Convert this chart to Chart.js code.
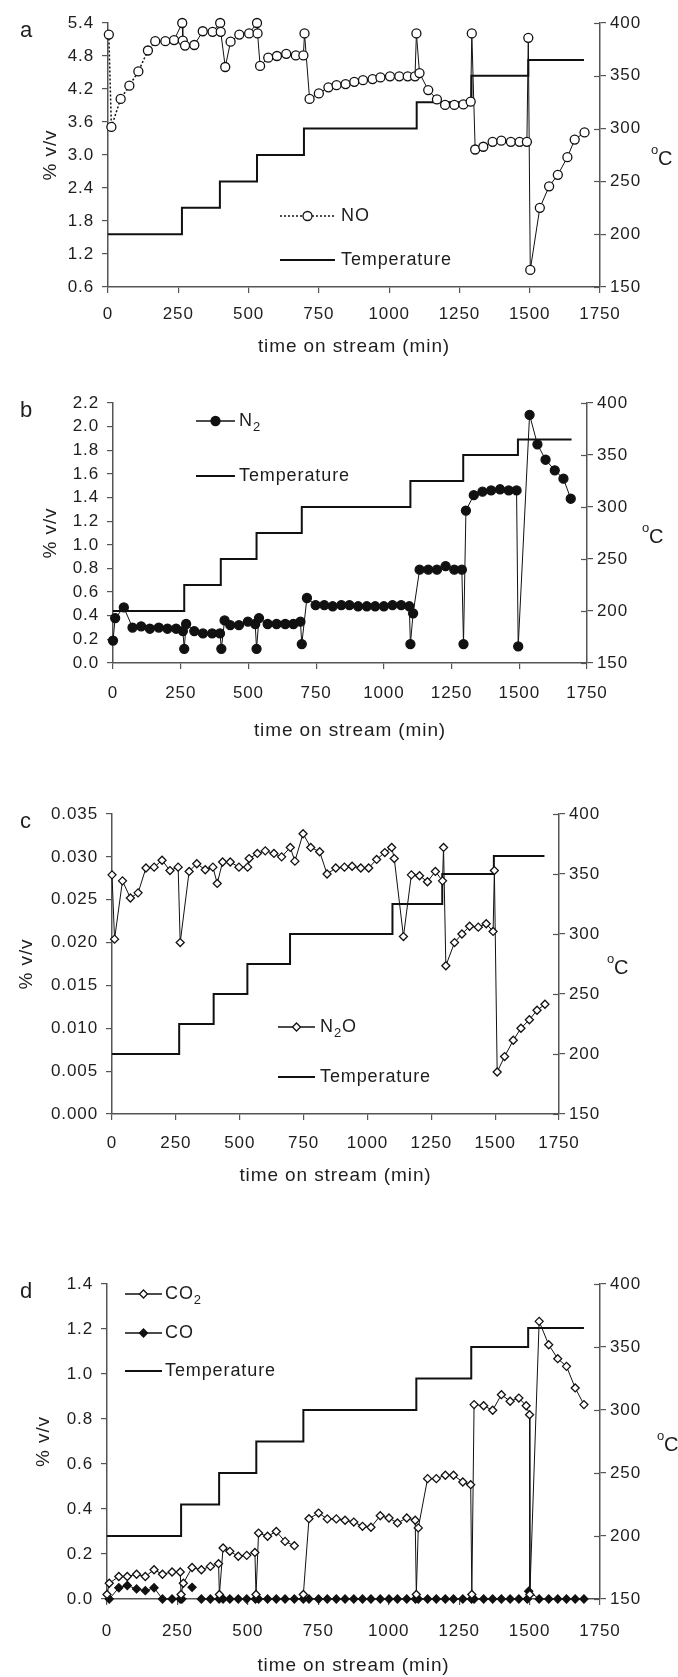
<!DOCTYPE html>
<html>
<head>
<meta charset="utf-8">
<script src="https://cdn.jsdelivr.net/npm/chart.js@4.4.1/dist/chart.umd.min.js"></script>
<style>
  html, body { margin: 0; padding: 0; background: #fff; }
  #wrap { position: relative; width: 678px; height: 1677px; }
  canvas { position: absolute; left: 0; }
</style>
</head>
<body>
<div id="wrap">
  <canvas id="chart-a" width="678" height="360" style="top:0px"></canvas>
  <canvas id="chart-b" width="678" height="400" style="top:360px"></canvas>
  <canvas id="chart-c" width="678" height="440" style="top:760px"></canvas>
  <canvas id="chart-d" width="678" height="477" style="top:1200px"></canvas>
</div>
<script>
const FONT = '"Liberation Sans", Arial, sans-serif';
const INK = '#1e1e1e';
const AXIS = '#555';
// the original lettering is a bit wider than Arial, spread it slightly
const SPACING = '0.9px';

// temperature programme (same in every panel)
const tempTimes = [0, 263, 398, 530, 697, 1098, 1293, 1495, 1693];
const tempLevels = [200, 225, 250, 275, 300, 325, 350, 365, 365];

// a: NO
const noTime = [3, 12, 45, 76, 108, 142, 168, 204, 235, 264, 266, 274, 307, 337, 372, 399, 401, 417, 436, 467,
  502, 530, 532, 541, 570, 601, 634, 668, 695, 699, 717, 750, 784, 813, 845, 876, 907, 941, 969, 1003,
  1036, 1066, 1092, 1097, 1108, 1139, 1170, 1199, 1232, 1264, 1290, 1294, 1306, 1335, 1368, 1399, 1433, 1464, 1490, 1495,
  1502, 1536, 1569, 1600, 1634, 1660, 1695];
const noValue = [5.19, 3.51, 4.02, 4.26, 4.52, 4.90, 5.07, 5.07, 5.09, 5.40, 5.08, 4.99, 5.00, 5.25, 5.24, 5.40, 5.24, 4.60, 5.06, 5.19,
  5.21, 5.40, 5.21, 4.62, 4.77, 4.80, 4.84, 4.81, 4.81, 5.21, 4.02, 4.12, 4.23, 4.27, 4.29, 4.33, 4.36, 4.38, 4.41, 4.43,
  4.43, 4.43, 4.43, 5.21, 4.49, 4.18, 4.01, 3.91, 3.91, 3.92, 3.97, 5.21, 3.10, 3.15, 3.24, 3.26, 3.24, 3.24, 3.24, 5.13,
  0.91, 2.04, 2.43, 2.64, 2.96, 3.28, 3.41];

// b: N2
const n2Time = [0, 8, 40, 72, 104, 136, 169, 201, 233, 258, 263, 270, 300, 332, 366, 395, 400, 412, 433, 465,
  498, 525, 530, 539, 571, 604, 636, 666, 692, 697, 716, 748, 780, 811, 843, 873, 905, 937, 968, 1000,
  1032, 1064, 1094, 1098, 1108, 1132, 1164, 1196, 1228, 1260, 1288, 1294, 1303, 1332, 1364, 1396, 1429, 1461, 1490, 1496,
  1538, 1567, 1597, 1631, 1663, 1690];
const n2Value = [0.19, 0.38, 0.47, 0.30, 0.31, 0.29, 0.30, 0.29, 0.29, 0.27, 0.12, 0.33, 0.27, 0.25, 0.25, 0.25, 0.12, 0.36, 0.32, 0.32,
  0.35, 0.33, 0.12, 0.38, 0.33, 0.33, 0.33, 0.33, 0.35, 0.16, 0.55, 0.49, 0.49, 0.48, 0.49, 0.49, 0.48, 0.48, 0.48, 0.48,
  0.49, 0.49, 0.48, 0.16, 0.42, 0.79, 0.79, 0.79, 0.82, 0.79, 0.79, 0.16, 1.29, 1.42, 1.45, 1.46, 1.47, 1.46, 1.46, 0.14,
  2.10, 1.85, 1.72, 1.63, 1.56, 1.39];

// c: N2O
const n2oTime = [0, 10, 41, 72, 102, 133, 165, 196, 227, 259, 267, 302, 332, 365, 395, 412, 433, 463, 497, 531,
  537, 569, 600, 634, 664, 698, 716, 748, 778, 813, 842, 876, 910, 940, 974, 1005, 1036, 1068, 1095, 1105,
  1141, 1172, 1204, 1235, 1266, 1294, 1298, 1307, 1341, 1370, 1400, 1434, 1465, 1492, 1497, 1508, 1537, 1571, 1601, 1634,
  1664, 1695];
const n2oValue = [0.0279, 0.0204, 0.0272, 0.0252, 0.0258, 0.0287, 0.0288, 0.0296, 0.0284, 0.0288, 0.0200, 0.0283, 0.0292, 0.0285, 0.0288, 0.0269, 0.0294, 0.0294, 0.0288, 0.0288,
  0.0298, 0.0304, 0.0307, 0.0304, 0.0300, 0.0311, 0.0295, 0.0327, 0.0311, 0.0306, 0.0280, 0.0287, 0.0288, 0.0289, 0.0287, 0.0287, 0.0297, 0.0305, 0.0311, 0.0298,
  0.0207, 0.0279, 0.0278, 0.0271, 0.0283, 0.0272, 0.0311, 0.0173, 0.0200, 0.0210, 0.0219, 0.0218, 0.0222, 0.0213, 0.0284, 0.0049, 0.0067, 0.0086, 0.0100, 0.0110,
  0.0121, 0.0128];

// d: CO2 (null = break in the line)
const co2Time = [0, 8, 42, 72, 105, 136, 167, 197, 231, 260, 263, 271, 302, 335, 367, 396, 399, 412, 436, 466,
  496, 525, 529, 538, 570, 601, 632, 665, 680, 697, 717, 751, 782, 814, 845, 876, 907, 937, 970, 1001,
  1031, 1064, 1094, 1098, 1105, 1138, 1169, 1201, 1230, 1263, 1291, 1295, 1303, 1337, 1369, 1400, 1431, 1462, 1488, 1500,
  1501, 1534, 1568, 1600, 1631, 1662, 1693];
const co2Value = [0.02, 0.07, 0.10, 0.10, 0.11, 0.10, 0.13, 0.11, 0.12, 0.12, 0.02, 0.07, 0.14, 0.13, 0.145, 0.157, 0.02, 0.227, 0.212, 0.19,
  0.194, 0.207, 0.02, 0.293, 0.279, 0.30, 0.256, 0.237, null, 0.02, 0.357, 0.382, 0.356, 0.356, 0.35, 0.342, 0.323, 0.319, 0.37, 0.36,
  0.338, 0.36, 0.35, 0.02, 0.316, 0.535, 0.535, 0.55, 0.55, 0.52, 0.508, 0.02, 0.864, 0.859, 0.839, 0.908, 0.879, 0.893, 0.859, 0.819,
  0.02, 1.234, 1.13, 1.068, 1.034, 0.938, 0.864];

// d: CO
const coTime = [8, 42, 72, 105, 136, 167, 197, 231, 260, 266, 285, 302, 318, 335, 367, 398, 412, 436, 466, 496,
  527, 538, 570, 601, 632, 665, 697, 717, 751, 782, 814, 845, 876, 907, 937, 970, 1001, 1031, 1064, 1095,
  1105, 1138, 1169, 1201, 1230, 1263, 1294, 1303, 1337, 1369, 1400, 1431, 1462, 1492, 1497, 1534, 1568, 1600, 1631, 1662,
  1693];
const coValue = [0, 0.05, 0.06, 0.045, 0.037, 0.05, 0, 0, 0, 0, null, 0.052, null, 0, 0, 0, 0, 0, 0, 0,
  0, 0, 0, 0, 0, 0, 0, 0, 0, 0, 0, 0, 0, 0, 0, 0, 0, 0, 0, 0,
  0, 0, 0, 0, 0, 0, 0, 0, 0, 0, 0, 0, 0, 0, 0.035, 0, 0, 0, 0, 0,
  0];

const toPoints = (xs, ys) => xs.map((x, i) => ({ x: x, y: ys[i] }));

function tempDataset() {
  return {
    label: 'Temperature',
    data: toPoints(tempTimes, tempLevels),
    yAxisID: 'y1',
    stepped: 'before',
    borderColor: '#111',
    borderWidth: 2,
    pointRadius: 0,
    order: 2
  };
}

function seriesDataset(label, xs, ys, style, fill, radius, extra) {
  return Object.assign({
    label: label,
    data: toPoints(xs, ys),
    yAxisID: 'y',
    borderColor: '#111',
    borderWidth: 1,
    pointStyle: style,
    pointRadius: radius,
    pointBackgroundColor: fill,
    pointBorderColor: '#111',
    pointBorderWidth: 1.3,
    spanGaps: false,
    clip: false,
    order: 1
  }, extra || {});
}

function drawMarker(ctx, x, y, style, fill, r) {
  ctx.beginPath();
  if (style === 'circle') {
    ctx.arc(x, y, r, 0, Math.PI * 2);
  } else {
    ctx.moveTo(x, y - r); ctx.lineTo(x + r, y); ctx.lineTo(x, y + r); ctx.lineTo(x - r, y); ctx.closePath();
  }
  ctx.fillStyle = fill; ctx.fill();
  ctx.lineWidth = 1.3; ctx.strokeStyle = '#111'; ctx.stroke();
}

// text with subscript parts: [['N'], ['2', 'sub'], ['O']]
function drawRich(ctx, x, y, parts) {
  parts.forEach(p => {
    const sub = p[1] === 'sub';
    ctx.font = (sub ? '13px ' : '18px ') + FONT;
    ctx.fillText(p[0], x, sub ? y + 6 : y);
    x += ctx.measureText(p[0]).width;
  });
}

const decorPlugin = {
  id: 'decor',
  beforeDraw(chart) {
    chart.ctx.letterSpacing = SPACING;
  },
  afterDraw(chart, args, opts) {
    const ctx = chart.ctx;
    const a = chart.chartArea;
    ctx.save();

    // inner half of the right axis ticks
    const y1 = chart.scales.y1;
    ctx.strokeStyle = AXIS; ctx.lineWidth = 1.2;
    y1.ticks.forEach(t => {
      const py = Math.round(y1.getPixelForValue(t.value)) + 0.5;
      ctx.beginPath(); ctx.moveTo(a.right - 6, py); ctx.lineTo(a.right, py); ctx.stroke();
    });

    ctx.fillStyle = INK;
    ctx.textBaseline = 'middle';
    ctx.textAlign = 'left';

    // panel letter
    ctx.font = '22px ' + FONT;
    ctx.fillText(opts.letter, 20, a.top + 8);

    // right axis unit, degree drawn as raised small o
    const cx = a.right + opts.degDx;
    const cy = (a.top + a.bottom) / 2 + 4;
    ctx.font = '13px ' + FONT;
    ctx.fillText('o', cx - 10, cy - 9);
    ctx.font = '20px ' + FONT;
    ctx.fillText('C', cx - 3, cy);

    // legend
    const lg = opts.legend;
    lg.rows.forEach(row => {
      ctx.save();
      ctx.strokeStyle = '#111';
      ctx.lineWidth = row.width;
      if (row.dash) ctx.setLineDash(row.dash);
      ctx.beginPath(); ctx.moveTo(lg.x0, row.y); ctx.lineTo(lg.x1, row.y); ctx.stroke();
      ctx.restore();
      if (row.marker) drawMarker(ctx, (lg.x0 + lg.x1) / 2, row.y, row.marker, row.fill, row.r);
      ctx.fillStyle = INK;
      drawRich(ctx, lg.tx, row.y, row.text);
    });
    ctx.restore();
  }
};

function makePanel(id, p) {
  const ctx = document.getElementById(id).getContext('2d');
  return new Chart(ctx, {
    type: 'line',
    data: { datasets: p.datasets },
    options: {
      responsive: false,
      animation: false,
      devicePixelRatio: 1,
      layout: { padding: { top: p.area.top, left: 0, right: 0, bottom: 0 } },
      plugins: {
        legend: { display: false },
        tooltip: { enabled: false },
        decor: { letter: p.letter, degDx: p.degDx, legend: p.legend }
      },
      scales: {
        x: {
          type: 'linear', min: 0, max: 1750,
          ticks: { stepSize: 250, color: INK, font: { family: FONT, size: 17 }, padding: p.xTickPad, maxRotation: 0,
                   callback: v => String(v) },
          grid: { drawOnChartArea: false, drawTicks: true, tickLength: 6, color: AXIS, lineWidth: 1.2 },
          border: { color: AXIS, width: 1.5 },
          title: { display: true, text: 'time on stream (min)', color: INK,
                   font: { family: FONT, size: 19 }, padding: { top: 0, bottom: p.xTitlePad } },
          afterFit: s => { s.height = p.height - p.area.bottom; }
        },
        y: {
          type: 'linear', position: 'left', min: p.yMin, max: p.yMax,
          ticks: { stepSize: p.yStep, color: INK, font: { family: FONT, size: 17 }, padding: 8,
                   callback: v => v.toFixed(p.yDec) },
          grid: { drawOnChartArea: false, drawTicks: true, tickLength: 6, color: AXIS, lineWidth: 1.2 },
          border: { color: AXIS, width: 1.5 },
          title: { display: true, text: '% v/v', color: INK,
                   font: { family: FONT, size: 19 }, padding: { top: p.yTitlePad, bottom: 0 } },
          afterFit: s => { s.width = p.area.left; }
        },
        y1: {
          type: 'linear', position: 'right', min: 150, max: 400,
          ticks: { stepSize: 50, color: INK, font: { family: FONT, size: 17 }, padding: 4 },
          grid: { drawOnChartArea: false, drawTicks: true, tickLength: 6, color: AXIS, lineWidth: 1.2 },
          border: { color: AXIS, width: 1.5 },
          afterFit: s => { s.width = 678 - p.area.right; }
        }
      }
    },
    plugins: [decorPlugin]
  });
}

makePanel('chart-a', {
  height: 360, area: { top: 23, bottom: 287, left: 108, right: 600 },
  yMin: 0.6, yMax: 5.4, yStep: 0.6, yDec: 1, yTitlePad: 39, xTitlePad: 2, xTickPad: 11,
  letter: 'a', degDx: 61,
  legend: { x0: 280, x1: 335, tx: 341, rows: [
    { y: 216, width: 1.5, dash: [2, 2], marker: 'circle', fill: '#fff', r: 4.5, text: [['NO']] },
    { y: 260, width: 2, text: [['Temperature']] }
  ] },
  datasets: [
    seriesDataset('NO', noTime, noValue, 'circle', '#fff', 4.5, {
      segment: { borderDash: c => (c.p0DataIndex < 6 ? [2, 2] : undefined),
                 borderWidth: c => (c.p0DataIndex < 6 ? 1.5 : 1) }
    }),
    tempDataset()
  ]
});

makePanel('chart-b', {
  height: 400, area: { top: 43, bottom: 303, left: 113, right: 587 },
  yMin: 0, yMax: 2.2, yStep: 0.2, yDec: 1, yTitlePad: 39, xTitlePad: 18, xTickPad: 14,
  letter: 'b', degDx: 65,
  legend: { x0: 196, x1: 235, tx: 239, rows: [
    { y: 61, width: 1.5, marker: 'circle', fill: '#111', r: 4.5, text: [['N'], ['2', 'sub']] },
    { y: 116, width: 2, text: [['Temperature']] }
  ] },
  datasets: [
    seriesDataset('N2', n2Time, n2Value, 'circle', '#111', 4.5),
    tempDataset()
  ]
});

makePanel('chart-c', {
  height: 440, area: { top: 54, bottom: 354, left: 112, right: 559 },
  yMin: 0, yMax: 0.035, yStep: 0.005, yDec: 3, yTitlePad: 15, xTitlePad: 13, xTickPad: 13,
  letter: 'c', degDx: 58,
  legend: { x0: 278, x1: 315, tx: 320, rows: [
    { y: 267, width: 1.5, marker: 'rectRot', fill: '#fff', r: 4, text: [['N'], ['2', 'sub'], ['O']] },
    { y: 317, width: 2, text: [['Temperature']] }
  ] },
  datasets: [
    seriesDataset('N2O', n2oTime, n2oValue, 'rectRot', '#fff', 4),
    tempDataset()
  ]
});

makePanel('chart-d', {
  height: 477, area: { top: 84, bottom: 399, left: 107, right: 600 },
  yMin: 0, yMax: 1.4, yStep: 0.2, yDec: 1, yTitlePad: 32, xTitlePad: 0, xTickPad: 16,
  letter: 'd', degDx: 67,
  legend: { x0: 125, x1: 162, tx: 165, rows: [
    { y: 94, width: 1.5, marker: 'rectRot', fill: '#fff', r: 4, text: [['CO'], ['2', 'sub']] },
    { y: 133, width: 1.5, marker: 'rectRot', fill: '#111', r: 4, text: [['CO']] },
    { y: 171, width: 2, text: [['Temperature']] }
  ] },
  datasets: [
    seriesDataset('CO2', co2Time, co2Value, 'rectRot', '#fff', 4),
    seriesDataset('CO', coTime, coValue, 'rectRot', '#111', 4),
    tempDataset()
  ]
});
</script>
</body>
</html>
